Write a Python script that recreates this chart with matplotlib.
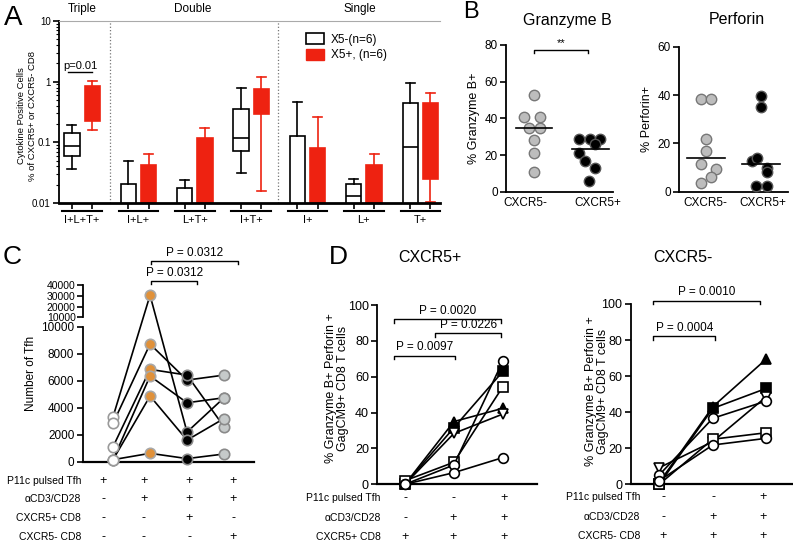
import numpy as np
import matplotlib
matplotlib.use('Agg')
import matplotlib.pyplot as plt
import matplotlib.transforms as mtransforms
from matplotlib.patches import Patch

plt.rcParams['font.family'] = ['Liberation Sans', 'DejaVu Sans']
plt.rcParams['axes.linewidth'] = 1.3

# ---------------- data ----------------
# Panel A: box stats (whisker low, q1, median, q3, whisker high)
a_groups = ['I+L+T+', 'I+L+', 'L+T+', 'I+T+', 'I+', 'L+', 'T+']
neg_whislo = [0.037, 0.004, 0.004, 0.031, 0.004, 0.004, 0.004]
neg_q1 = [0.060, 0.006, 0.006, 0.073, 0.006, 0.006, 0.006]
neg_med = [0.088, 0.006, 0.006, 0.120, 0.006, 0.0132, 0.085]
neg_q3 = [0.141, 0.0203, 0.018, 0.36, 0.128, 0.0203, 0.44]
neg_whishi = [0.193, 0.049, 0.0236, 0.80, 0.457, 0.0249, 0.94]

pos_whislo = [0.16, 0.004, 0.004, 0.016, 0.004, 0.004, 0.0102]
pos_q1 = [0.228, 0.006, 0.006, 0.29, 0.006, 0.006, 0.0249]
pos_med = [0.45, 0.02, 0.05, 0.5, 0.03, 0.02, 0.1]
pos_q3 = [0.85, 0.042, 0.12, 0.76, 0.082, 0.042, 0.44]
pos_whishi = [1.03, 0.064, 0.17, 1.18, 0.26, 0.064, 0.64]

# Panel B: % positive cells
b_cats = ['CXCR5-', 'CXCR5+']
gzb_neg = [53, 41, 41, 35, 35, 28, 21, 11]
gzb_pos = [28.6, 28.6, 28.6, 25.8, 20.9, 16.9, 12.8, 6.0]
prf_neg = [38.2, 38.2, 21.8, 16.8, 11.3, 9.3, 6.0, 3.7]
prf_pos = [39.5, 35.0, 12.7, 9.9, 14.1, 8.3, 2.5, 2.5]
# jitter offsets (layout only)
gzb_neg_dx = [0, -0.18, 0.10, -0.09, 0.10, 0, 0, 0]
gzb_pos_dx = [-0.19, 0, 0.18, 0.09, -0.19, -0.09, 0.09, -0.01]
prf_neg_dx = [-0.09, 0.09, 0, 0, -0.09, 0.18, 0.09, -0.09]
prf_pos_dx = [0, 0, -0.17, 0.10, -0.08, 0.10, -0.09, 0.10]

# Panel C: number of Tfh per donor, per condition
tfh_alone = [3333, 2844, 1111, 150, 150, 150]
tfh_cd3 = [30500, 8720, 6844, 6348, 4867, 622]
tfh_x5pos = [2200, 6052, 6420, 4370, 1600, 230]
tfh_x5neg = [4740, 6420, 2593, 4740, 3200, 570]

# Panel D: % GzB+ Prf+ GagCM9+ CD8 per donor
d_markers = ['^', 's', 'v', 's', 'o', 'o']
d_filled = [True, True, False, False, False, False]
dpos_cd8 = [0, 0, 0, 2, 0, 0]
dpos_cd3 = [35, 31.6, 28.4, 12.3, 10.8, 6.5]
dpos_tfh = [42.4, 63, 39.2, 54.5, 68.8, 14.9]
dneg_cd8 = [1, 0, 9.2, 0, 5.2, 2]
dneg_cd3 = [43, 42.1, 23.7, 25, 36.6, 21.8]
dneg_tfh = [69.5, 53.2, 48.6, 28.6, 46.2, 25.5]

RED = '#EE2211'
W, H = 793, 546

fig = plt.figure(figsize=(W / 100, H / 100), dpi=100)


def fbox(x0, y0, x1, y1):
    # pixel box (top-left origin) -> figure rect
    return [x0 / W, 1 - y1 / H, (x1 - x0) / W, (y1 - y0) / H]


def ftext(x, y, s, **kw):
    kw.setdefault('ha', 'center')
    kw.setdefault('va', 'center')
    fig.text(x / W, 1 - y / H, s, **kw)


def bracket(ax, x0, x1, y, h, label, ty, trans, fs=8.5):
    ax.plot([x0, x0, x1, x1], [y - h, y, y, y - h], color='black', lw=1,
            transform=trans, clip_on=False)
    ax.text((x0 + x1) / 2, ty, label, transform=trans, ha='center',
            va='center', fontsize=fs)


# ---------------- Panel A ----------------
axA = fig.add_axes(fbox(59, 21, 440, 203))
xs = np.arange(len(a_groups))
off = 0.18
neg_stats = [dict(whislo=a, q1=b, med=c, q3=d, whishi=e, fliers=[])
             for a, b, c, d, e in zip(neg_whislo, neg_q1, neg_med, neg_q3, neg_whishi)]
pos_stats = [dict(whislo=a, q1=b, med=c, q3=d, whishi=e, fliers=[])
             for a, b, c, d, e in zip(pos_whislo, pos_q1, pos_med, pos_q3, pos_whishi)]
axA.bxp(neg_stats, positions=xs - off, widths=0.27, capwidths=0.16,
        patch_artist=True, showfliers=False, manage_ticks=False,
        boxprops=dict(facecolor='white', edgecolor='black', lw=1.2),
        whiskerprops=dict(color='black', lw=1.2),
        capprops=dict(color='black', lw=1.2),
        medianprops=dict(color='black', lw=1.2))
axA.bxp(pos_stats, positions=xs + off, widths=0.27, capwidths=0.16,
        patch_artist=True, showfliers=False, manage_ticks=False,
        boxprops=dict(facecolor=RED, edgecolor=RED, lw=1.2),
        whiskerprops=dict(color=RED, lw=1.2),
        capprops=dict(color=RED, lw=1.2),
        medianprops=dict(color=RED, lw=1.2))
axA.set_yscale('log')
axA.set_ylim(0.01, 10)
axA.set_xlim(-0.41, 6.35)
axA.set_yticks([0.01, 0.1, 1, 10], ['0.01', '0.1', '1', '10'])
axA.set_xticks(np.concatenate([xs - off, xs + off]), [])
axA.tick_params(axis='both', which='major', length=4, width=1.2, labelsize=7, pad=2)
axA.tick_params(axis='y', which='minor', length=2, width=0.8)
axA.spines['right'].set_visible(False)
axA.spines['top'].set_color('#aaaaaa')
axA.spines['top'].set_linewidth(0.8)
axA.spines['bottom'].set_linewidth(2)
for sx in [0.5, 3.47]:
    axA.axvline(sx, color='#777777', ls=':', lw=0.9)
tA = mtransforms.blended_transform_factory(axA.transData, axA.transAxes)
for i, g in enumerate(a_groups):
    axA.plot([i - 0.35, i + 0.35], [-0.045, -0.045], color='black', lw=1.5,
             transform=tA, clip_on=False)
    axA.text(i, -0.095, g, transform=tA, ha='center', va='center', fontsize=8)
bracket(axA, -0.25, 0.18, 0.72, 0, 'p=0.01', 0.755, tA, fs=8)
ftext(82, 9, 'Triple', fontsize=8.5)
ftext(193, 9, 'Double', fontsize=8.5)
ftext(360, 9, 'Single', fontsize=8.5)
ftext(27, 116, 'Cytokine Positive Cells\n% of CXCR5+ or CXCR5- CD8',
      rotation=90, fontsize=6.8, linespacing=1.15)
axA.legend([Patch(facecolor='white', edgecolor='black', lw=1.2),
            Patch(facecolor=RED, edgecolor=RED)],
           ['X5-(n=6)', 'X5+, (n=6)'], loc='upper left',
           bbox_to_anchor=(300 / W, 1 - 27 / H), bbox_transform=fig.transFigure,
           frameon=False, fontsize=8.5, borderpad=0, handlelength=1.5,
           handleheight=1.1, labelspacing=0.25, handletextpad=0.6)

# ---------------- Panel B ----------------
def dot_panel(rect, neg, pos, ndx, pdx, ymax, ystep, ylabel, xt, mhalf):
    ax = fig.add_axes(rect)
    ax.plot(1 + np.array(ndx), neg, 'o', ms=7.5, mfc='#bdbdbd', mec='#777777',
            mew=1.0, clip_on=False, zorder=3)
    ax.plot(2 + np.array(pdx), pos, 'o', ms=7.5, mfc='black', mec='#555555',
            mew=1.0, clip_on=False, zorder=3)
    for c, vals in [(1, neg), (2, pos)]:
        m = np.median(vals)
        ax.plot([c - mhalf, c + mhalf], [m, m], color='black', lw=1.2, zorder=4)
    ax.set_ylim(0, ymax)
    ax.set_yticks(np.arange(0, ymax + 1, ystep))
    ax.set_xticks(xt, b_cats)
    ax.tick_params(axis='x', length=0, labelsize=8.5, pad=4)
    ax.tick_params(axis='y', length=4, width=1.2, labelsize=8.5, pad=2)
    ax.spines['top'].set_visible(False)
    ax.spines['right'].set_visible(False)
    ax.set_ylabel(ylabel, fontsize=9, labelpad=3)
    return ax


axG = dot_panel(fbox(506, 45, 613, 191.7), gzb_neg, gzb_pos, gzb_neg_dx,
                gzb_pos_dx, 80, 20, '% Granzyme B+', [0.85, 2.14], 0.33)
axG.set_xlim(0.5, 2.41)
bracket(axG, 1.0, 1.97, 77.3, 1.5, '**', 81, axG.transData, fs=8)
axP = dot_panel(fbox(679, 46.7, 788, 191.7), prf_neg, prf_pos, prf_neg_dx,
                prf_pos_dx, 60, 20, '% Perforin+', [0.98, 2.04], 0.34)
axP.set_xlim(0.51, 2.49)
ftext(567, 20, 'Granzyme B', fontsize=11.5)
ftext(737, 20, 'Perforin', fontsize=11.5)

# ---------------- Panel C ----------------
GAP, K = 700.0, 0.08


def brk_fwd(v):
    v = np.asarray(v, dtype=float)
    return np.where(v <= 10000, v, 10000 + GAP + (v - 10000) * K)


def brk_inv(y):
    y = np.asarray(y, dtype=float)
    return np.where(y <= 10000, y,
                    np.where(y < 10000 + GAP, 10000, 10000 + (y - 10000 - GAP) / K))


axC = fig.add_axes(fbox(82.7, 285, 254, 461.7))
axC.set_yscale('function', functions=(brk_fwd, brk_inv))
axC.set_ylim(0, 40000)
axC.set_xlim(0.18, 4.81)
conds = [1, 2, 3, 4]
for d in range(len(tfh_alone)):
    axC.plot(conds, [tfh_alone[d], tfh_cd3[d], tfh_x5pos[d], tfh_x5neg[d]],
             color='black', lw=1.2, zorder=2)
c_styles = [('white', '#9a9a9a'), ('#E0913A', '#a8a8a8'),
            ('black', '#8a8a8a'), ('#c6caca', '#8a8a8a')]
for c, vals, (fc, ec) in zip(conds, [tfh_alone, tfh_cd3, tfh_x5pos, tfh_x5neg], c_styles):
    axC.plot([c] * len(vals), vals, 'o', ms=7.5, mfc=fc, mec=ec, mew=1.2,
             ls='none', zorder=3, clip_on=False)
axC.spines['top'].set_visible(False)
axC.spines['right'].set_visible(False)
axC.spines['left'].set_bounds(0, 10000)
axC.set_yticks(np.arange(0, 10001, 2000))
axC.set_xticks([])
axC.tick_params(axis='y', length=4, width=1.2, labelsize=8.5, pad=2)
axC.spines['bottom'].set_linewidth(1.6)
axC.set_ylabel('Number of Tfh', fontsize=8.5, labelpad=3)

axC2 = fig.add_axes(fbox(82.7, 285, 254, 317.3))
axC2.set_facecolor('none')
axC2.set_ylim(10000, 40000)
axC2.set_yticks([10000, 20000, 30000, 40000])
axC2.set_xticks([])
for s in ['top', 'right', 'bottom']:
    axC2.spines[s].set_visible(False)
axC2.tick_params(axis='y', length=4, width=1.2, labelsize=7.5, pad=1)

tC = mtransforms.blended_transform_factory(axC.transData, axC.transAxes)
bracket(axC, 2.03, 4.38, 1.136, 0.017, 'P = 0.0312', 1.181, tC)
bracket(axC, 2.03, 3.27, 1.024, 0.017, 'P = 0.0312', 1.068, tC)

c_rows = ['P11c pulsed Tfh', 'αCD3/CD28', 'CXCR5+ CD8', 'CXCR5- CD8']
c_signs = [['+', '+', '+', '+'], ['-', '+', '+', '+'],
           ['-', '-', '+', '-'], ['-', '-', '-', '+']]
for ry, lab, signs in zip([480.7, 499.3, 518.3, 537.3], c_rows, c_signs):
    ftext(81, ry, lab, ha='right', fontsize=7.5)
    for cx, s in zip([103, 144, 189, 233], signs):
        ftext(cx, ry, s, fontsize=9)

# ---------------- Panel D ----------------
def d_panel(rect, xlim, v1, v2, v3):
    ax = fig.add_axes(rect)
    for d in range(len(v1)):
        mfc = 'black' if d_filled[d] else 'white'
        ax.plot([1, 2, 3], [v1[d], v2[d], v3[d]], color='black', lw=1.2,
                marker=d_markers[d], ms=7, mfc=mfc, mec='black', mew=1.2,
                clip_on=False, zorder=3)
    ax.set_ylim(0, 100)
    ax.set_xlim(*xlim)
    ax.set_yticks(np.arange(0, 101, 20))
    ax.set_xticks([])
    ax.tick_params(axis='y', length=4, width=1.2, labelsize=9, pad=2)
    ax.spines['top'].set_visible(False)
    ax.spines['right'].set_visible(False)
    ax.spines['bottom'].set_linewidth(1.6)
    return ax


axD1 = d_panel(fbox(377.3, 305, 536.7, 484.3), (0.435, 3.69), dpos_cd8, dpos_cd3, dpos_tfh)
bracket(axD1, 0.776, 2.97, 92, 2, 'P = 0.0020', 96.8, axD1.transData)
bracket(axD1, 1.61, 2.97, 84.2, 2, 'P = 0.0226', 88.8, axD1.transData)
bracket(axD1, 0.776, 2.03, 71.7, 2, 'P = 0.0097', 76.7, axD1.transData)
axD2 = d_panel(fbox(630.7, 304, 792, 484.3), (0.467, 3.48), dneg_cd8, dneg_cd3, dneg_tfh)
bracket(axD2, 0.89, 2.89, 101.8, 2, 'P = 0.0010', 106.6, axD2.transData)
bracket(axD2, 0.89, 2.05, 82, 2, 'P = 0.0004', 86.7, axD2.transData)

ylab_d = '% Granzyme B+ Perforin +\nGagCM9+ CD8 T cells'
ftext(337, 388, ylab_d, rotation=90, fontsize=9, linespacing=1.1)
ftext(597, 391, ylab_d, rotation=90, fontsize=9, linespacing=1.1)
ftext(430, 257, 'CXCR5+', fontsize=11.5)
ftext(683, 257, 'CXCR5-', fontsize=11.5)

d_signs = [['-', '-', '+'], ['-', '+', '+'], ['+', '+', '+']]
for ry, lab, signs in zip([498.3, 517.7, 536.7],
                          ['P11c pulsed Tfh', 'αCD3/CD28', 'CXCR5+ CD8'], d_signs):
    ftext(380.7, ry, lab, ha='right', fontsize=7.5)
    for cx, s in zip([405, 453, 504], signs):
        ftext(cx, ry, s, fontsize=9)
for ry, lab, signs in zip([496.7, 516.7, 536],
                          ['P11c pulsed Tfh', 'αCD3/CD28', 'CXCR5- CD8'], d_signs):
    ftext(640, ry, lab, ha='right', fontsize=7.5)
    for cx, s in zip([663, 713, 763], signs):
        ftext(cx, ry, s, fontsize=9)

# panel letters
ftext(13, 18, 'A', fontsize=20)
ftext(471, 12, 'B', fontsize=17)
ftext(12, 257, 'C', fontsize=19)
ftext(338, 257, 'D', fontsize=19)

fig.savefig('out.png', dpi=100)
